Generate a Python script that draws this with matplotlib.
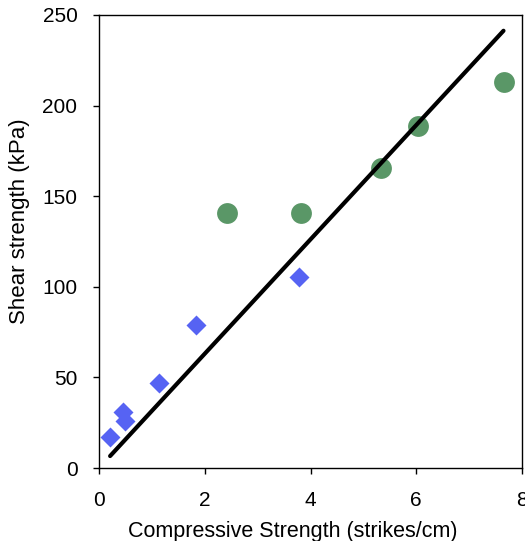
import matplotlib
matplotlib.use("Agg")
import matplotlib.pyplot as plt

# compressive strength (strikes/cm) vs shear strength (kPa)
circ_x = [2.43, 3.82, 5.34, 6.04, 7.66]
circ_y = [140.7, 140.7, 165.4, 188.7, 213.2]
diam_x = [0.21, 0.46, 0.49, 1.13, 1.83, 3.78]
diam_y = [17.3, 31.1, 26.1, 46.7, 78.9, 105.2]
fit_x = [0.21, 7.65]
fit_y = [6.6, 241.3]

plt.rcParams['font.family'] = ['Liberation Sans', 'DejaVu Sans']

fig = plt.figure(figsize=(5.25, 5.41), dpi=100)
ax = fig.add_axes([99 / 525, 73 / 541, 423 / 525, 453 / 541])

ax.plot(fit_x, fit_y, color='black', lw=3, solid_capstyle='round', zorder=3)
ax.plot(circ_x, circ_y, 'o', color='#5a9767', ms=15, mec='none', zorder=2)
ax.plot(diam_x, diam_y, 'D', color='#5663f3', ms=10.5, mec='none', zorder=2)

ax.set_xlim(0, 8)
ax.set_ylim(0, 250)
ax.set_xticks([0, 2, 4, 6, 8])
ax.set_yticks([0, 50, 100, 150, 200, 250])
ax.tick_params(direction='out', length=4.5, width=1, labelsize=15)
ax.tick_params(axis='x', pad=12)
ax.tick_params(axis='y', pad=11)
for s in ax.spines.values():
    s.set_linewidth(1)
ax.set_xlabel('Compressive Strength (strikes/cm)', fontsize=15.5)
ax.set_ylabel('Shear strength (kPa)', fontsize=16)
ax.xaxis.set_label_coords(0.459, -0.118)
ax.yaxis.set_label_coords(-0.163, 0.545)

fig.savefig('out.png', dpi=100)
